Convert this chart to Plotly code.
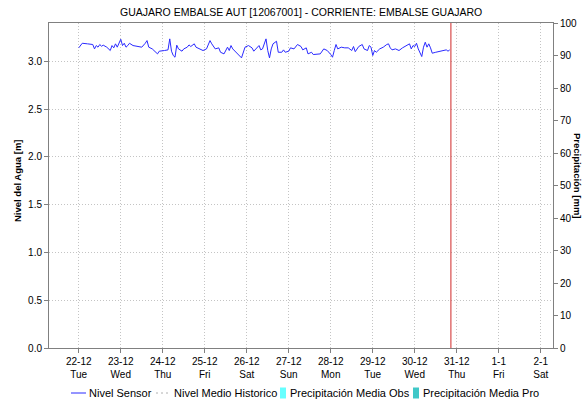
import pandas as pd
import plotly.graph_objects as go

# Sensor water level, hours after 2020-12-22 00:00 and level in metres
START = "2020-12-22 00:00"
hours = [0, 2, 5, 8, 9, 10, 11, 12, 13, 14, 16, 18, 19, 20, 21, 22, 24, 25, 26, 27,
         28, 29, 31, 33, 36, 38, 39, 40, 42, 45, 46, 49, 51, 52, 53, 54, 55, 56, 57, 59,
         60, 62, 63, 64, 66, 67, 69, 71, 73, 75, 76, 78, 80, 81, 83, 85, 86, 87, 88, 90,
         92, 93, 95, 97, 99, 100, 103, 104, 105, 107, 108, 109, 110, 111, 113, 114, 116, 117, 118, 120,
         121, 123, 125, 127, 128, 130, 131, 133, 134, 136, 138, 140, 142, 144, 145, 146, 147, 148, 150, 152,
         154, 156, 157, 158, 160, 162, 163, 165, 166, 167, 168, 169, 170, 172, 174, 176, 177, 178, 179, 181,
         183, 185, 187, 189, 190, 191, 192, 193, 194, 195, 196, 197, 198, 199, 200, 201, 202, 204, 206, 208,
         210, 211, 212]
nivel_sensor = [3.140, 3.188, 3.182, 3.175, 3.129, 3.164, 3.147, 3.175, 3.157, 3.168, 3.147, 3.112, 3.164, 3.140, 3.182, 3.147, 3.230, 3.164, 3.188, 3.147,
                3.164, 3.188, 3.164, 3.157, 3.147, 3.188, 3.216, 3.147, 3.129, 3.077, 3.105, 3.112, 3.119, 3.234, 3.105, 3.060, 3.042, 3.168, 3.129, 3.105,
                3.129, 3.147, 3.171, 3.154, 3.182, 3.147, 3.129, 3.112, 3.129, 3.216, 3.182, 3.129, 3.140, 3.094, 3.077, 3.147, 3.112, 3.164, 3.129, 3.094,
                3.060, 3.035, 3.147, 3.164, 3.140, 3.105, 3.164, 3.119, 3.129, 3.234, 3.112, 3.035, 3.129, 3.182, 3.209, 3.094, 3.094, 3.119, 3.094, 3.105,
                3.140, 3.129, 3.175, 3.154, 3.119, 3.140, 3.077, 3.094, 3.070, 3.077, 3.077, 3.129, 3.112, 3.070, 3.042, 3.112, 3.175, 3.129, 3.147, 3.140,
                3.140, 3.112, 3.154, 3.100, 3.154, 3.175, 3.129, 3.112, 3.164, 3.147, 3.060, 3.112, 3.094, 3.129, 3.147, 3.175, 3.182, 3.140, 3.119, 3.129,
                3.112, 3.140, 3.164, 3.182, 3.129, 3.164, 3.154, 3.188, 3.129, 3.094, 3.049, 3.147, 3.199, 3.147, 3.182, 3.140, 3.084, 3.094, 3.105, 3.112,
                3.119, 3.105, 3.119]

X_RANGE = ["2020-12-21 07:00", "2021-01-02 07:00"]
NOW = "2020-12-30 20:40"
LEVEL_RANGE = [0, 3.4]
PRECIP_RANGE = [0, 100]

TITLE = "GUAJARO EMBALSE AUT [12067001] - CORRIENTE: EMBALSE GUAJARO"
SERIES_NAMES = ["Nivel Sensor", "Nivel Medio Historico",
                "Precipitación Media Obs", "Precipitación Media Pro"]

times = pd.to_datetime(START) + pd.to_timedelta(hours, unit="h")

FONT = "Liberation Sans, Arial, sans-serif"
GRID = "#c4c4c4"
AXIS = "#808080"
SENSOR_COLOR = "#2a2aff"
HIST_COLOR = "#b0b0b0"
OBS_COLOR = "#66ffff"
PRO_COLOR = "#40c8c8"

W, H = 587, 404
ML, MR, MT, MB = 49, 34, 23, 56
PW, PH = W - ML - MR, H - MT - MB


def px_x(p):
    return (p - ML) / PW


def px_y(p):
    return (H - MB - p) / PH


fig = go.Figure()
fig.add_trace(go.Scatter(x=times, y=nivel_sensor, mode="lines", name=SERIES_NAMES[0],
                         line=dict(color=SENSOR_COLOR, width=1)))
# precipitation series (no rainfall recorded in this window) on the right axis
fig.add_trace(go.Bar(x=[times[0]], y=[0], name=SERIES_NAMES[2],
                     marker=dict(color=OBS_COLOR, line=dict(width=0)), yaxis="y2"))
fig.add_trace(go.Bar(x=[times[0]], y=[0], name=SERIES_NAMES[3],
                     marker=dict(color=PRO_COLOR, line=dict(width=0)), yaxis="y2"))

# current-time marker
fig.add_shape(type="line", xref="x", yref="paper", x0=NOW, x1=NOW, y0=0, y1=1,
              line=dict(color="#d02828", width=1))

fig.update_layout(
    width=W, height=H,
    margin=dict(l=ML, r=MR, t=MT, b=MB, autoexpand=False),
    paper_bgcolor="white", plot_bgcolor="white",
    font=dict(family=FONT, size=10, color="#000000"),
    title=dict(text=TITLE, x=0.513, xanchor="center", y=1 - 12 / H, yanchor="middle",
               yref="container", font=dict(size=10.5, color="#000000")),
    showlegend=False,
    xaxis=dict(range=X_RANGE, type="date", dtick=86400000, tick0="2020-12-22",
               tickformat="%-d-%-m<br>%a", showgrid=True, gridcolor=GRID,
               griddash="1px,2px", gridwidth=1, ticks="outside", ticklen=4,
               tickcolor=AXIS, showline=True, linecolor=AXIS, mirror=True,
               zeroline=False, tickfont=dict(size=10)),
    yaxis=dict(range=LEVEL_RANGE, dtick=0.5, tickformat=".1f", showgrid=True,
               gridcolor=GRID, griddash="1px,2px", ticks="outside", ticklen=4,
               tickcolor=AXIS, showline=True, linecolor=AXIS, mirror=True,
               zeroline=False, tickfont=dict(size=10)),
    yaxis2=dict(range=PRECIP_RANGE, dtick=10, overlaying="y", side="right",
                showgrid=False, ticks="outside", ticklen=4, tickcolor=AXIS,
                showline=True, linecolor=AXIS, zeroline=False, tickfont=dict(size=10)),
)

# axis titles
fig.add_annotation(text="<b>Nivel del Agua [m]</b>", xref="paper", yref="paper",
                   x=px_x(17), y=px_y(181), xanchor="center", yanchor="middle",
                   textangle=-90, showarrow=False, font=dict(size=9.5))
fig.add_annotation(text="<b>Precipitación [mm]</b>", xref="paper", yref="paper",
                   x=px_x(577), y=px_y(176), xanchor="center", yanchor="middle",
                   textangle=90, showarrow=False, font=dict(size=9.5))

# legend row below the plot
LEG_Y = 393
leg_items = [
    ("line", 71, 86, 88, dict(color=SENSOR_COLOR, width=1)),
    ("dot", 156, 170, 173, dict(color=HIST_COLOR, width=1, dash="2px,3px")),
    ("box", 280, 286, 289, OBS_COLOR),
    ("box", 413, 419, 422, PRO_COLOR),
]
for (kind, a, b, tx, style), name in zip(leg_items, SERIES_NAMES):
    if kind == "box":
        fig.add_shape(type="rect", xref="paper", yref="paper",
                      x0=px_x(a), x1=px_x(b), y0=px_y(LEG_Y + 5.5), y1=px_y(LEG_Y - 5.5),
                      line=dict(width=0), fillcolor=style)
    else:
        fig.add_shape(type="line", xref="paper", yref="paper",
                      x0=px_x(a), x1=px_x(b), y0=px_y(LEG_Y), y1=px_y(LEG_Y), line=style)
    fig.add_annotation(text=name, xref="paper", yref="paper", x=px_x(tx), y=px_y(LEG_Y),
                       xanchor="left", yanchor="middle", showarrow=False,
                       font=dict(size=11), xshift=-1)

fig.write_html("out.html")
